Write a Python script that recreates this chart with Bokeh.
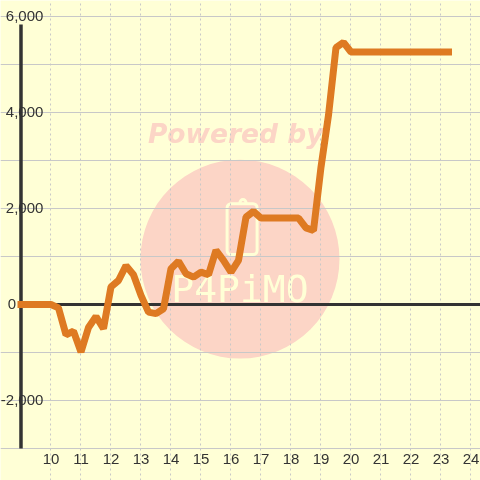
from bokeh.plotting import figure
from bokeh.models import LinearAxis, Grid, FixedTicker, Range1d, NumeralTickFormatter
from bokeh.core.properties import value
from bokeh.embed import file_html
from bokeh.resources import INLINE

hours = [9, 9.25, 9.5, 9.75, 10, 10.25, 10.5, 10.75, 11, 11.25, 11.5, 11.75, 12, 12.25, 12.5, 12.75,
         13, 13.25, 13.5, 13.75, 14, 14.25, 14.5, 14.75, 15, 15.25, 15.5, 15.75, 16, 16.25, 16.5, 16.75,
         17, 17.25, 17.5, 17.75, 18, 18.25, 18.5, 18.75, 19, 19.25, 19.5, 19.75, 20, 20.25, 20.5, 20.75,
         21, 21.25, 21.5, 21.75, 22, 22.25, 22.5, 22.75, 23, 23.25]
profit = [0, 0, 0, 0, 0, -70, -630, -555, -990, -480, -250, -505, 365, 500, 810, 620,
          190, -160, -190, -90, 745, 900, 640, 570, 675, 620, 1130, 920, 675, 920, 1820, 1940,
          1800, 1800, 1800, 1800, 1800, 1800, 1595, 1540, 2860, 3940, 5350, 5460, 5260, 5260, 5260, 5260,
          5260, 5260, 5260, 5260, 5260, 5260, 5260, 5260, 5260, 5260]
x_ticks = list(range(10, 25))
y_major = [-2000, 2000, 4000, 6000]
y_zero = [0]
y_minor = [-3000, -1000, 1000, 3000, 5000]

BG = "#ffffd6"
GRID = "#c8c8c8"
DARK = "#333333"
ORANGE = "#de7a22"
WM = "#fcd5c6"

XMIN, XMAX, YMIN, YMAX = 8.317, 24.317, -3667, 6333
p = figure(width=480, height=480, output_backend="svg", toolbar_location=None,
           x_range=Range1d(XMIN, XMAX), y_range=Range1d(YMIN, YMAX),
           x_axis_type=None, y_axis_type=None, min_border=0,
           background_fill_color=BG, border_fill_color=BG, outline_line_color=None)
p.styles = {"position": "fixed", "left": "0", "top": "0"}
p.xgrid.visible = False
p.ygrid.visible = False

# watermark
p.scatter([16.3], [945], size=199, marker="circle", fill_color=WM, line_color=None, level="image")
p.text([13.23], [3560], text=["Powered by"], text_font=value("DejaVu Sans"), text_font_style="bold italic",
       text_font_size="26.5px", text_color=WM, text_baseline="middle", level="image")
p.text([16.3], [330], text=["P4PiMO"], text_font=value("DejaVu Sans Mono"),
       text_font_size="38px", text_color=BG, text_align="center", text_baseline="middle", level="image")
p.rect([16.4], [2060], width=0.2, height=250, fill_color=WM, line_color=BG, line_width=3,
       border_radius=3, level="image")
p.rect([16.37], [1570], width=1.0, height=1060, fill_color=WM, line_color=BG, line_width=3,
       border_radius=4, level="image")

# grids
p.add_layout(Grid(dimension=0, ticker=FixedTicker(ticks=x_ticks), grid_line_color=GRID,
                  grid_line_dash="2 3", grid_line_width=1, bounds=(-3000, 6000), level="underlay"))
p.add_layout(Grid(dimension=1, ticker=FixedTicker(ticks=y_minor), grid_line_color=GRID,
                  grid_line_width=1, bounds=(9.05, XMAX), level="underlay"))
p.add_layout(Grid(dimension=1, ticker=FixedTicker(ticks=y_major), grid_line_color=GRID,
                  grid_line_width=1, bounds=(9.82, XMAX), level="underlay"))

# axes (placed inside the frame)
axis_style = dict(axis_line_color=None, major_tick_line_color=None, minor_tick_line_color=None,
                  major_tick_out=0, major_label_text_font="Liberation Sans",
                  major_label_text_font_size="15px", major_label_text_color=DARK)
p.add_layout(LinearAxis(fixed_location=9.78, ticker=FixedTicker(ticks=y_major),
                        formatter=NumeralTickFormatter(format="0,0"), major_label_standoff=1, **axis_style), "left")
p.add_layout(LinearAxis(fixed_location=8.87, ticker=FixedTicker(ticks=y_zero),
                        formatter=NumeralTickFormatter(format="0,0"), major_label_standoff=1, **axis_style), "left")
p.add_layout(LinearAxis(fixed_location=-3000, ticker=FixedTicker(ticks=x_ticks),
                        major_label_standoff=6, **axis_style), "below")

p.segment([9], [0], [XMAX], [0], line_color=DARK, line_width=3)
p.segment([9], [-3000], [9], [5833], line_color=DARK, line_width=3.5)
p.line(hours, profit, line_color=ORANGE, line_width=7, line_join="bevel", line_cap="square")

open("out.html", "w").write(file_html(p, INLINE))
